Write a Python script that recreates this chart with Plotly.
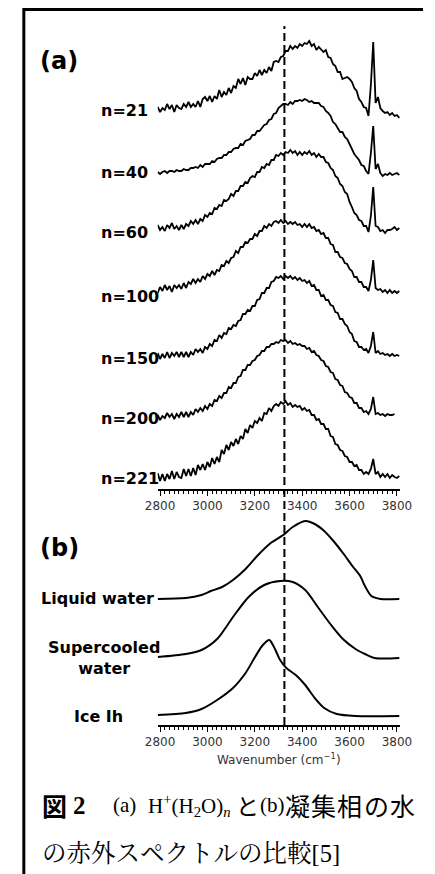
import plotly.graph_objects as go

# ---------------- data ----------------
# wavenumber grid of the cluster spectra (cm-1)
wavenumber = [
    2790, 2800, 2810, 2820, 2830, 2840, 2850, 2860, 2870, 2880,
    2890, 2900, 2910, 2920, 2930, 2940, 2950, 2960, 2970, 2980,
    2990, 3000, 3010, 3020, 3030, 3040, 3050, 3060, 3070, 3080,
    3090, 3100, 3110, 3120, 3130, 3140, 3150, 3160, 3170, 3180,
    3190, 3200, 3210, 3220, 3230, 3240, 3250, 3260, 3270, 3280,
    3290, 3300, 3310, 3320, 3330, 3340, 3350, 3360, 3370, 3380,
    3390, 3400, 3410, 3420, 3430, 3440, 3450, 3460, 3470, 3480,
    3490, 3500, 3510, 3520, 3530, 3540, 3550, 3560, 3570, 3580,
    3590, 3600, 3610, 3620, 3630, 3640, 3650, 3660, 3670, 3680,
    3690, 3700, 3710, 3720, 3730, 3740, 3750, 3760, 3770, 3780,
    3790, 3800, 3810,
]

cluster_labels = ["n=21", "n=40", "n=60", "n=100", "n=150", "n=200", "n=221"]

# IR intensities (arb. units)
ir_n21 = [
    2, -3, 1, -1, 5, 0, 4, -3, 4, 1,
    0, 5, 2, 7, 2, 5, 2, 8, 2, 10,
    12, 8, 13, 7, 13, 10, 19, 12, 17, 14,
    21, 16, 23, 21, 30, 25, 31, 24, 32, 30,
    30, 36, 33, 39, 34, 39, 36, 42, 38, 47,
    48, 47, 52, 53, 58, 58, 63, 60, 63, 61,
    65, 63, 66, 65, 68, 63, 65, 59, 62, 59,
    57, 59, 52, 51, 45, 43, 37, 37, 30, 31,
    32, 30, 27, 21, 18, 10, 7, 2, 1, -7,
    24, 67, 6, 12, 1, -2, -4, -3, -6, -4,
    -7, -6, -9,
]
ir_n40 = [
    1, -1, 1, 2, 0, 2, 2, 1, 3, 2,
    2, 4, 3, 3, 5, 5, 6, 5, 8, 6,
    9, 9, 9, 12, 11, 14, 15, 15, 18, 18,
    21, 21, 24, 25, 25, 29, 28, 32, 33, 34,
    38, 38, 42, 42, 45, 48, 49, 53, 54, 59,
    60, 65, 67, 69, 69, 68, 71, 69, 72, 72,
    73, 72, 74, 73, 71, 72, 70, 70, 70, 67,
    66, 62, 60, 57, 51, 49, 45, 41, 41, 36,
    34, 29, 25, 19, 16, 13, 8, 7, 2, -1,
    20, 47, 4, 9, 0, -3, -1, -2, 0, -2,
    -1, 0, -2,
]
ir_n60 = [
    3, -2, 1, -3, 3, 0, 5, -1, 2, -2,
    3, -1, 4, 2, 7, 4, 8, 4, 9, 7,
    13, 11, 15, 14, 20, 19, 23, 22, 28, 27,
    29, 34, 32, 37, 37, 42, 42, 46, 45, 50,
    52, 51, 56, 56, 61, 60, 64, 63, 68, 68,
    73, 72, 75, 73, 76, 75, 78, 75, 77, 73,
    76, 73, 76, 74, 77, 73, 75, 71, 74, 71,
    71, 66, 65, 60, 58, 52, 50, 44, 42, 36,
    34, 26, 21, 15, 13, 8, 7, 2, 2, -4,
    12, 41, 2, 1, -3, -2, -5, -2, -2, -1,
    1, -2, 0,
]
ir_n100 = [
    -3, 3, -1, 5, 0, 4, -2, 5, 2, 5,
    1, 7, 2, 8, 6, 11, 7, 11, 8, 14,
    11, 16, 14, 19, 15, 20, 19, 25, 24, 29,
    27, 32, 33, 39, 37, 43, 43, 48, 47, 51,
    51, 56, 54, 59, 59, 64, 62, 66, 64, 68,
    69, 67, 70, 67, 69, 66, 68, 66, 68, 65,
    66, 63, 66, 63, 66, 62, 63, 59, 60, 56,
    57, 52, 52, 46, 45, 38, 38, 33, 32, 27,
    26, 21, 19, 13, 13, 8, 8, 3, 3, -1,
    10, 30, 2, 0, 1, -2, 0, -3, 0, -3,
    -1, -3, -1,
]
ir_n150 = [
    3, -3, 2, -2, 4, -2, 3, 0, 4, -1,
    4, -1, 4, -1, 4, 1, 7, 4, 7, 3,
    9, 7, 12, 10, 16, 15, 21, 18, 23, 22,
    28, 27, 31, 30, 35, 36, 42, 42, 46, 45,
    50, 50, 56, 57, 63, 63, 68, 68, 74, 75,
    79, 78, 80, 77, 80, 78, 80, 77, 79, 76,
    78, 75, 76, 73, 75, 70, 71, 66, 66, 60,
    61, 56, 56, 51, 50, 44, 43, 37, 37, 32,
    30, 24, 22, 15, 14, 9, 9, 6, 7, 3,
    10, 24, 3, 5, 2, 3, 1, 2, 0, 2,
    0, 1, 0,
]
ir_n200 = [
    2, -3, 1, -1, 4, 0, 3, -2, 3, 0,
    5, 0, 5, 0, 5, 2, 8, 5, 9, 6,
    11, 8, 13, 11, 17, 16, 21, 19, 24, 24,
    30, 29, 34, 34, 40, 41, 47, 47, 52, 52,
    56, 57, 61, 62, 66, 66, 70, 70, 73, 73,
    75, 74, 77, 76, 77, 74, 76, 73, 74, 72,
    73, 71, 71, 68, 69, 65, 66, 62, 61, 57,
    56, 51, 50, 45, 44, 38, 37, 32, 31, 25,
    24, 20, 19, 14, 14, 9, 9, 5, 6, 3,
    8, 20, 3, 4, 2, 3, 1, 3, 2, 2,
    3, None, None,
]
ir_n221 = [
    4, -4, 3, -4, 3, -2, 6, -2, 5, 0,
    -1, 8, 1, 8, 1, 9, 2, 12, 7, 13,
    7, 15, 10, 19, 13, 20, 15, 27, 23, 32,
    27, 35, 31, 38, 33, 41, 38, 48, 44, 52,
    49, 56, 54, 59, 56, 64, 63, 69, 66, 71,
    73, 71, 75, 73, 76, 72, 74, 70, 72, 70,
    71, 67, 69, 66, 67, 62, 62, 57, 58, 53,
    53, 48, 48, 41, 40, 33, 32, 27, 26, 21,
    20, 15, 15, 11, 12, 7, 7, 3, 5, 3,
    8, 18, 3, 5, 0, 3, 0, 3, -1, 2,
    0, -1, 1,
]

# condensed-phase water spectra (panel b)
phase_labels = ["Liquid water", "Supercooled<br>water", "Ice Ih"]
liquid_x = [2790, 2909, 2975, 3015, 3062, 3108, 3161, 3214, 3267, 3320, 3360,
            3413, 3453, 3493, 3532, 3572, 3612, 3645, 3665, 3692, 3731, 3810]
liquid_y = [0, 1, 4, 8, 12, 19, 30, 44, 56, 64, 72,
            78, 75, 68, 58, 46, 33, 23, 13, 3, 0, 0]
super_x = [2790, 2909, 2975, 3041, 3108, 3174, 3240, 3307, 3360, 3413, 3466,
           3519, 3572, 3625, 3665, 3705, 3810]
super_y = [0, 3, 7, 18, 40, 60, 72, 76, 75, 67, 50,
           33, 18, 8, 3, -1, -1]
ice_x = [2790, 2909, 2975, 3041, 3108, 3161, 3201, 3234, 3261, 3281, 3307,
         3333, 3373, 3413, 3453, 3493, 3546, 3625, 3810]
ice_y = [0, 2, 6, 15, 27, 42, 58, 70, 75, 68, 55,
         47, 40, 30, 17, 7, 1, -1, -1]

tick_values = [2800, 3000, 3200, 3400, 3600, 3800]
tick_labels = ["2800", "3000", "3200", "3400", "3600", "3800"]
marker_wavenumber = 3325

# ---------------- layout helpers ----------------
W, H = 435, 874


def px(xp):
    return xp / W


def py(yp):
    return 1 - yp / H


# vertical stacking offsets (layout)
offsets_a = [380, 316, 261, 199, 133, 72, 12]
offsets_b = [126, 68, 10]
label_y_a = [111, 172, 233, 296, 358, 418, 479]

fig = go.Figure()

series_a = [ir_n21, ir_n40, ir_n60, ir_n100, ir_n150, ir_n200, ir_n221]
for name, vals, off in zip(cluster_labels, series_a, offsets_a):
    fig.add_trace(go.Scatter(
        x=wavenumber,
        y=[None if v is None else v + off for v in vals],
        mode="lines", name=name, showlegend=False,
        line=dict(color="black", width=1.8),
        xaxis="x", yaxis="y",
    ))

series_b = [(liquid_x, liquid_y), (super_x, super_y), (ice_x, ice_y)]
for name, (xs, ys), off in zip(phase_labels, series_b, offsets_b):
    fig.add_trace(go.Scatter(
        x=xs, y=[v + off for v in ys],
        mode="lines", name=name, showlegend=False,
        line=dict(color="black", width=2, shape="spline", smoothing=0.8),
        xaxis="x2", yaxis="y2",
    ))

x_domain = [px(153.5), px(411.1)]
axis_common = dict(
    domain=x_domain, range=[2790, 3815],
    showline=True, linecolor="black", linewidth=1.5,
    ticks="outside", ticklen=5, tickwidth=1.3, tickcolor="black",
    tickvals=tick_values, ticktext=tick_labels,
    tickfont=dict(family="DejaVu Sans", size=12, color="#333"),
    minor=dict(dtick=20, ticks="outside", ticklen=3, tickwidth=1,
               tickcolor="black", showgrid=False),
    showgrid=False, zeroline=False,
)

fig.update_layout(
    width=W, height=H, autosize=False,
    margin=dict(l=0, r=0, t=0, b=0),
    paper_bgcolor="white", plot_bgcolor="rgba(0,0,0,0)",
    xaxis=dict(anchor="y", **axis_common),
    yaxis=dict(domain=[py(489), py(20)], range=[0, 469], visible=False),
    xaxis2=dict(anchor="y2", **axis_common),
    yaxis2=dict(domain=[py(725), py(510)], range=[0, 215], visible=False),
)

# dashed marker line through both panels
fig.add_shape(type="line", xref="x", yref="paper",
              x0=marker_wavenumber, x1=marker_wavenumber,
              y0=py(725), y1=py(26),
              line=dict(color="black", width=2, dash="8px,4px"))

# frame (left and top border)
fig.add_shape(type="path", xref="paper", yref="paper",
              path=f"M {px(11.5)},0 L {px(11.5)},{py(9.5)} L 1,{py(9.5)}",
              line=dict(color="black", width=3))

bold_font = dict(family="DejaVu Sans", color="black", weight="bold")

ann = []
ann.append(dict(text="(a)", x=px(26), y=py(61), xanchor="left",
                yanchor="middle", font=dict(size=24, **bold_font)))
ann.append(dict(text="(b)", x=px(26), y=py(548), xanchor="left",
                yanchor="middle", font=dict(size=24, **bold_font)))
for lab, ly in zip(cluster_labels, label_y_a):
    ann.append(dict(text=lab, x=px(91), y=py(ly), xanchor="left",
                    yanchor="middle", font=dict(size=16, **bold_font)))
ann.append(dict(text="Liquid water", x=px(152), y=py(598),
                xanchor="right", yanchor="middle",
                font=dict(size=16, **bold_font)))
ann.append(dict(text="Supercooled<br>water", x=px(97), y=py(658),
                xanchor="center", yanchor="middle", align="center",
                font=dict(size=16, **bold_font)))
ann.append(dict(text="Ice Ih", x=px(91), y=py(716),
                xanchor="center", yanchor="middle",
                font=dict(size=16, **bold_font)))
ann.append(dict(text="Wavenumber (cm<sup>−1</sup>)", x=px(282), y=py(759),
                xanchor="center", yanchor="middle",
                font=dict(family="DejaVu Sans", size=12, color="#333")))

# caption
serif = "Liberation Serif, Noto Serif CJK JP, Noto Sans CJK JP"
cjk = "Noto Sans CJK JP"
cap_y1, cap_y2 = 805, 853
caption_pieces = [
    ("図", 29, cjk, 25, "bold"),
    ("2", 62, "Liberation Serif", 25, "bold"),
    ("(a)", 104, serif, 21, "normal"),
    ("H<sup>+</sup>(H<sub>2</sub>O)<sub><i>n</i></sub>", 141, serif, 21, "normal"),
    ("と", 235, cjk, 23, "normal"),
    ("(b)", 260, serif, 21, "normal"),
    ("凝", 286, cjk, 25, "normal"),
    ("集", 314, cjk, 25, "normal"),
    ("相", 342, cjk, 25, "normal"),
    ("の", 370, cjk, 25, "normal"),
    ("水", 398, cjk, 25, "normal"),
]
for txt, xl, fam, sz, wt in caption_pieces:
    ann.append(dict(text=txt, x=px(xl), y=py(cap_y1), xanchor="left",
                    yanchor="middle",
                    font=dict(family=fam, size=sz, color="black", weight=wt)))
ann.append(dict(text="の赤外スペクトルの比較<span style='font-family:Liberation Serif'>[5]</span>",
                x=px(29), y=py(cap_y2), xanchor="left", yanchor="middle",
                font=dict(family=serif, size=24.5, color="black")))

for a in ann:
    a.update(xref="paper", yref="paper", showarrow=False)
fig.update_layout(annotations=ann)

fig.write_html(
    "out.html",
    config={"displayModeBar": False},
    post_script="document.body.style.margin='0';document.body.style.overflow='hidden';",
)
